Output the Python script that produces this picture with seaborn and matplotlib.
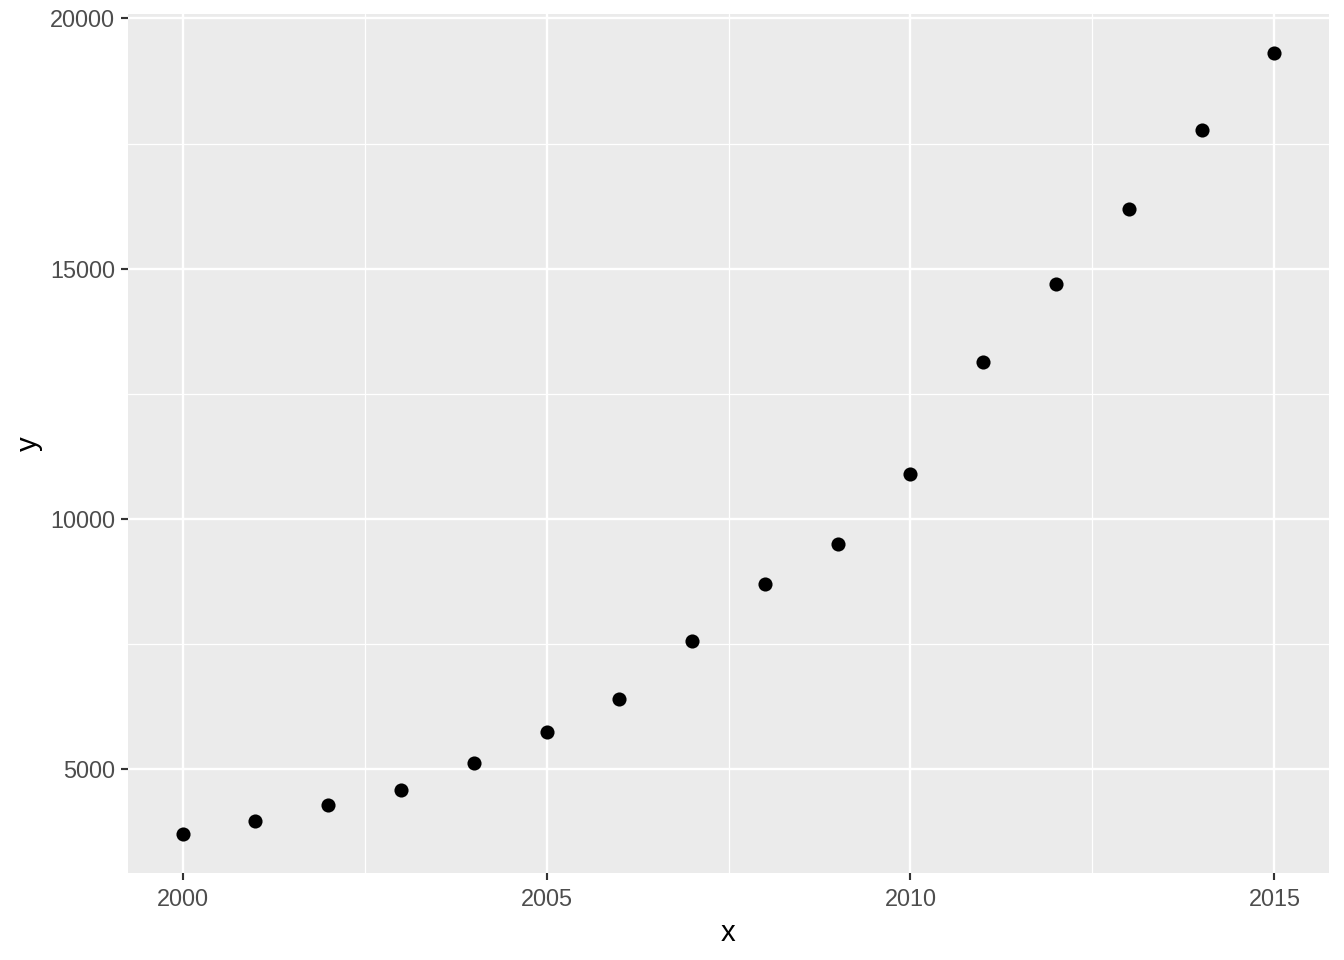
import matplotlib
matplotlib.use("Agg")
import matplotlib.pyplot as plt
from matplotlib.ticker import MultipleLocator
import seaborn as sns
import pandas as pd

years = [2000, 2001, 2002, 2003, 2004, 2005, 2006, 2007,
         2008, 2009, 2010, 2011, 2012, 2013, 2014, 2015]
values = [3710, 3975, 4295, 4590, 5128, 5753, 6412, 7570,
          8711, 9510, 10906, 13130, 14694, 16192, 17776, 19308]
x_ticks = [2000, 2005, 2010, 2015]
y_ticks = [5000, 10000, 15000, 20000]

df = pd.DataFrame({"x": years, "y": values})

sns.set_theme(style="darkgrid")
plt.rcParams["font.family"] = ["Liberation Sans", "DejaVu Sans"]

fig = plt.figure(figsize=(7, 5), dpi=192)
ax = fig.add_axes([128 / 1344, 1 - 873 / 960, (1329 - 128) / 1344, (873 - 14) / 960])
ax.set_facecolor("#EBEBEB")

sns.scatterplot(data=df, x="x", y="y", ax=ax, color="black", s=28,
                linewidth=0, zorder=3)

xr = max(years) - min(years)
yr = max(values) - min(values)
ax.set_xlim(min(years) - 0.05 * xr, max(years) + 0.05 * xr)
ax.set_ylim(min(values) - 0.05 * yr, max(values) + 0.05 * yr)

ax.set_xticks(x_ticks)
ax.set_yticks(y_ticks)
ax.set_xticklabels([str(t) for t in x_ticks])
ax.set_yticklabels([str(t) for t in y_ticks])
ax.xaxis.set_minor_locator(MultipleLocator(2.5))
ax.yaxis.set_minor_locator(MultipleLocator(2500))

ax.grid(which="major", color="white", linewidth=0.9)
ax.grid(which="minor", color="white", linewidth=0.45)
ax.set_axisbelow(True)
for sp in ax.spines.values():
    sp.set_visible(False)

ax.tick_params(axis="both", which="major", length=2.75, width=0.8,
               color="#333333", labelcolor="#4D4D4D", labelsize=8.8, pad=2.2,
               bottom=True, left=True)
ax.tick_params(axis="x", which="major", pad=3.0)
ax.tick_params(axis="both", which="minor", length=0)

ax.set_xlabel("x", fontsize=11, color="black", labelpad=2.75)
ax.set_ylabel("y", fontsize=11, color="black", labelpad=2.75)

fig.savefig("out.png", dpi=192, facecolor="white")
